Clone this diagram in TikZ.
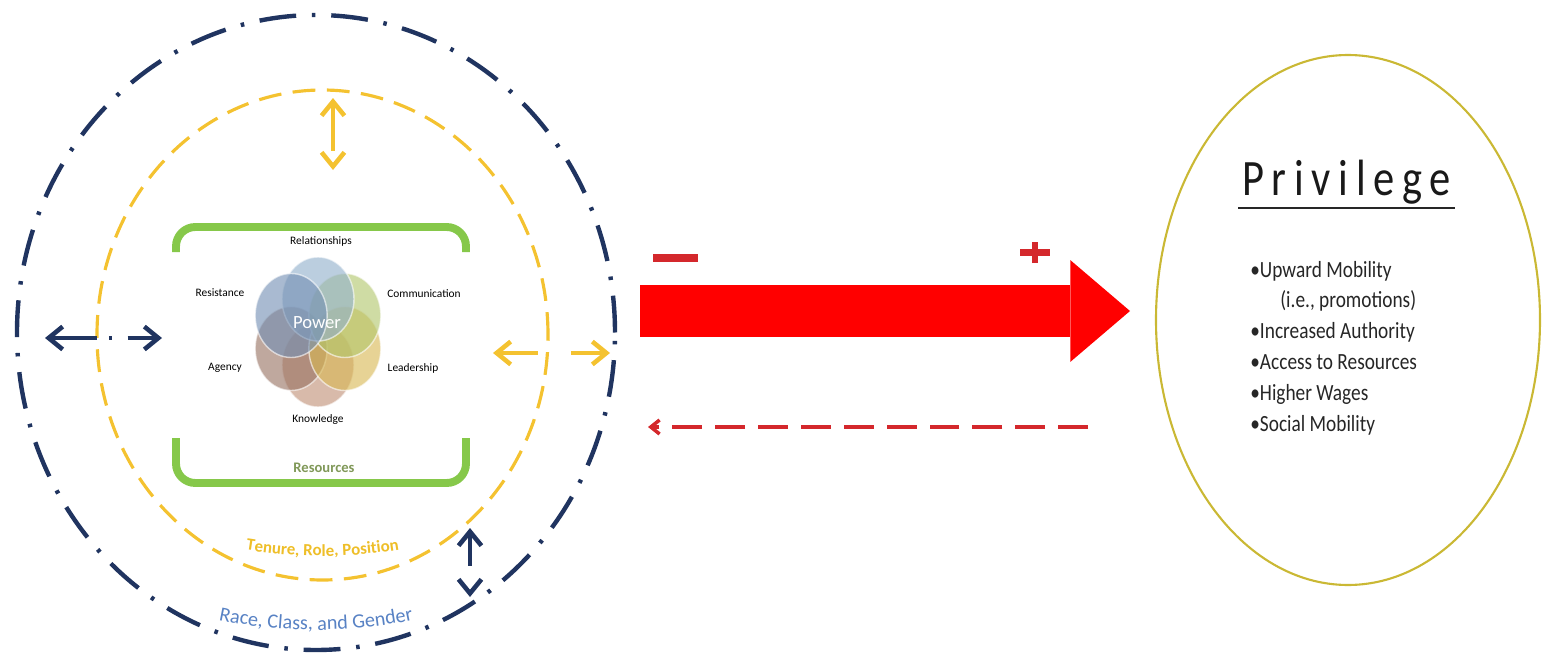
\documentclass[tikz,border=0pt]{standalone}
\usepackage{fontspec}
\setmainfont{Carlito}
\newfontfamily\titlefont[LetterSpace=18]{Carlito}
\usetikzlibrary{arrows.meta,decorations.text,calc}
\definecolor{navy}{RGB}{32,52,96}
\definecolor{gold}{RGB}{244,194,48}
\definecolor{tenure}{RGB}{238,190,40}
\definecolor{leaf}{RGB}{134,200,74}
\definecolor{rsrc}{RGB}{128,152,88}
\definecolor{push}{RGB}{255,0,0}
\definecolor{pull}{RGB}{212,40,44}
\definecolor{privring}{RGB}{202,184,52}
\definecolor{race}{RGB}{88,130,196}
\definecolor{pRel}{RGB}{146,176,204}
\definecolor{pRes}{RGB}{116,144,180}
\definecolor{pCom}{RGB}{178,198,108}
\definecolor{pLea}{RGB}{216,184,84}
\definecolor{pKno}{RGB}{192,144,118}
\definecolor{pAge}{RGB}{152,114,98}
\newcommand{\tallish}[1]{\scalebox{1}[1.2]{#1}}

\begin{document}
\begin{tikzpicture}[x=0.02cm, y=0.02cm,
    ring/.style={draw=navy, line width=2.5pt, dash pattern=on 21pt off 9pt on 2pt off 9pt},
    band/.style={draw=gold, line width=1.8pt, dash pattern=on 13pt off 6.5pt},
    bracket/.style={draw=leaf, line width=4.5pt, rounded corners=11pt},
    petal/.style={fill=#1, fill opacity=0.62, draw=white, draw opacity=0.6, line width=0.8pt},
    lbl/.style={font=\fontsize{6.5}{8}\selectfont, text=black, inner sep=1pt},
    twoway/.style={<->, >={Straight Barb[length=8pt,width=13pt]}, line width=2.6pt, dash pattern=#1},
    perk/.style={anchor=base west, inner sep=0pt, font=\fontsize{11}{13}\selectfont, text=black!85}]

    \useasboundingbox (0,0) rectangle (1543,654);

    % rings
    \coordinate (hub)  at (316,321.5);
    \coordinate (hub2) at (322.5,319);
    \draw[ring] (hub) ellipse[x radius=299, y radius=317.5];
    \draw[band] (hub2) ellipse[x radius=225.5, y radius=245];

    \path[decorate, decoration={text along path, text align=center, text color=tenure,
        text={|\fontsize{9.6}{11}\selectfont\bfseries|Tenure, Role, Position}}]
      (hub2) ++(240:330 and 221) arc[start angle=240, end angle=300, x radius=330, y radius=221];
    \path[decorate, decoration={text along path, text align=center, text color=race,
        text={|\fontsize{11.5}{13}\selectfont|Race, Class, and Gender}}]
      (hub) ++(245:380 and 297.5) arc[start angle=245, end angle=295, x radius=380, y radius=297.5];

    % green brackets
    \draw[bracket] (176,402) -- (176,427) -- (466,427) -- (466,402);
    \draw[bracket] (176,216) -- (176,171) -- (466,171) -- (466,216);

    % power petals
    \coordinate (core) at (318,322);
    \foreach \ang/\col in {270/pKno, 210/pAge, 330/pLea, 30/pCom, 90/pRel, 150/pRes}
      \path[petal=\col] (core) ++(\ang:31 and 33) ellipse[x radius=36, y radius=42];
    \node[font=\fontsize{10.6}{12}\selectfont, text=white] (power) at (317,331) {Power};

    \node[lbl] (rel)    at (321,413) {Relationships};
    \node[lbl] (resist) at (220,361) {Resistance};
    \node[lbl] (comm)   at (424,360) {Communication};
    \node[lbl] (agency) at (225,286) {Agency};
    \node[lbl] (lead)   at (413,286) {Leadership};
    \node[lbl] (know)   at (318,234) {Knowledge};
    \node[font=\fontsize{8.3}{10}\selectfont\bfseries, text=rsrc] (rsrc) at (324,186) {Resources};

    % two-way arrows across the rings
    \coordinate (lftA) at (45,316);   \coordinate (lftB) at (162,316);
    \coordinate (topA) at (333,556);  \coordinate (topB) at (333,484);
    \coordinate (rgtA) at (493,301);  \coordinate (rgtB) at (610,301);
    \coordinate (botA) at (470,126);  \coordinate (botB) at (470,57);
    \draw[twoway={on 26pt off 7pt on 1.7pt off 9pt}, navy] (lftA) -- (lftB);
    \draw[twoway={on 27pt off 30pt}, gold] (topA) -- (topB);
    \draw[twoway={on 22pt off 19pt}, gold] (rgtA) -- (rgtB);
    \draw[twoway={on 18pt off 30pt}, navy] (botA) -- (botB);

    % push towards privilege
    \coordinate (pushS) at (640,343);
    \coordinate (pushE) at (1130,343);
    \draw[push, line width=29.5pt, -{Triangle[length=34pt, width=58pt, line width=0pt]}] (pushS) -- (pushE);
    \draw[pull, line width=4.3pt] (653,396) -- (698,396);
    \draw[pull, line width=3.8pt] (1020,401.5) -- (1050,401.5) (1035,391) -- (1035,412);

    \coordinate (backS) at (1088,227);
    \coordinate (backE) at (648,227);
    \draw[pull, line width=2pt, dash pattern=on 17pt off 7.4pt,
          -{Straight Barb[length=5pt, width=8pt]}] (backS) -- (backE);

    % privilege
    \coordinate (privc) at (1348,334);
    \draw[privring, line width=1.2pt] (privc) ellipse[x radius=192, y radius=265];
    \node[anchor=base west, inner sep=0pt, font=\titlefont\fontsize{24.2}{29}\selectfont, text=black!90]
      (title) at (1242,459) {\tallish{Privilege}};
    \draw[line width=1.7pt, black!85] ([shift={(-4,-13)}]title.base west) -- ([shift={(4,-13)}]title.base east);

    \node[perk] (up)     at (1250,377) {\tallish{•Upward Mobility}};
    \node[perk] (promo)  at (1280,347) {\tallish{(i.e., promotions)}};
    \node[perk] (auth)   at (1250,316) {\tallish{•Increased Authority}};
    \node[perk] (access) at (1250,285) {\tallish{•Access to Resources}};
    \node[perk] (wages)  at (1250,254) {\tallish{•Higher Wages}};
    \node[perk] (social) at (1250,223) {\tallish{•Social Mobility}};
\end{tikzpicture}
\end{document}
